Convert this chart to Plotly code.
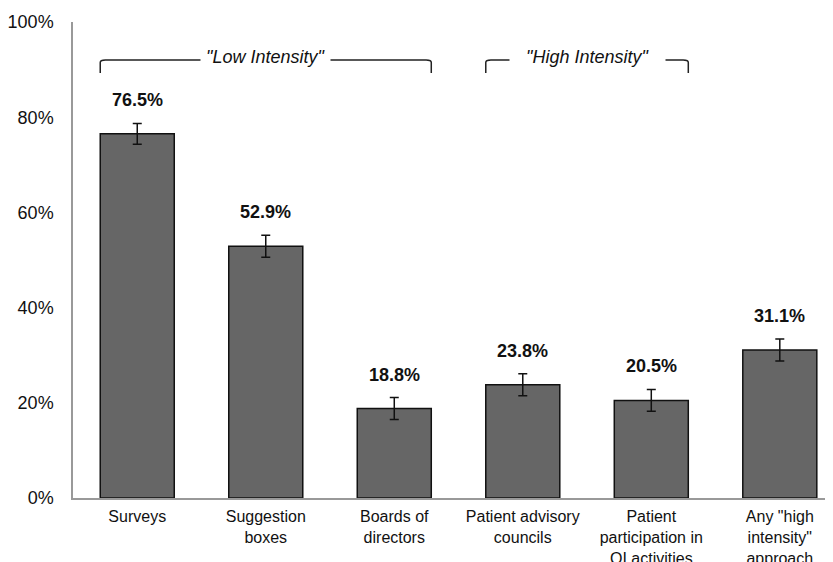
import plotly.graph_objects as go

categories = ["Surveys", "Suggestion<br>boxes", "Boards of<br>directors",
              "Patient advisory<br>councils", "Patient<br>participation in<br>QI activities",
              "Any \"high<br>intensity\"<br>approach"]
values = [76.5, 52.9, 18.8, 23.8, 20.5, 31.1]
errors = [2.2, 2.3, 2.3, 2.3, 2.3, 2.3]
value_labels = ["76.5%", "52.9%", "18.8%", "23.8%", "20.5%", "31.1%"]
groups = [("\"Low Intensity\"", 0, 2, 5), ("\"High Intensity\"", 3, 4, 16)]
y_ticks = [0, 20, 40, 60, 80, 100]

FONT = "Liberation Sans, Arial, sans-serif"
BW = 0.576
xs = list(range(len(categories)))

fig = go.Figure()
fig.add_trace(go.Bar(
    x=xs, y=values, width=BW,
    marker=dict(color="#666666", line=dict(color="#111111", width=1.5)),
    error_y=dict(type="data", array=errors, visible=True, color="#111111",
                 thickness=1.5, width=4.5),
    hoverinfo="skip",
))

for x, v, e, t in zip(xs, values, errors, value_labels):
    fig.add_annotation(x=x, y=v + e, text=f"<b>{t}</b>", showarrow=False,
                       yanchor="middle", yshift=23,
                       font=dict(family=FONT, size=18, color="#111111"))

y_line, y_tick = 92.0, 89.3
for label, first, last, pad in groups:
    x0 = first - BW / 2
    x1 = last + BW / 2
    fig.add_shape(type="path",
                  path=(f"M {x0},{y_tick} L {x0},{y_line - 0.5} Q {x0},{y_line} {x0 + 0.04},{y_line} "
                        f"L {x1 - 0.04},{y_line} Q {x1},{y_line} {x1},{y_line - 0.5} L {x1},{y_tick}"),
                  line=dict(color="#222222", width=1.5), layer="below")
    fig.add_annotation(x=(x0 + x1) / 2, y=y_line, text=f"<i>{label}</i>", showarrow=False,
                       yanchor="middle", yshift=3, bgcolor="white", borderpad=pad,
                       font=dict(family=FONT, size=18, color="#111111"))

fig.update_layout(
    width=825, height=554,
    margin=dict(l=65, r=0, t=14, b=64),
    paper_bgcolor="white", plot_bgcolor="white",
    showlegend=False,
    font=dict(family=FONT, color="#111111"),
    xaxis=dict(range=[-0.5, 5.414], tickvals=xs, ticktext=categories,
               showline=True, linecolor="#999999", linewidth=1.5,
               showgrid=False, zeroline=False, ticks="", automargin=False,
               tickfont=dict(family=FONT, size=16, color="#111111"),
               ticklabelstandoff=3),
    yaxis=dict(range=[0, 100], tickvals=y_ticks, ticktext=[f"{t}%" for t in y_ticks],
               showline=True, linecolor="#999999", linewidth=1.5,
               showgrid=False, zeroline=False, ticks="", automargin=False,
               tickfont=dict(family=FONT, size=18, color="#111111"),
               ticklabelstandoff=14),
    bargap=0.4,
)

fig.write_html("out.html")
